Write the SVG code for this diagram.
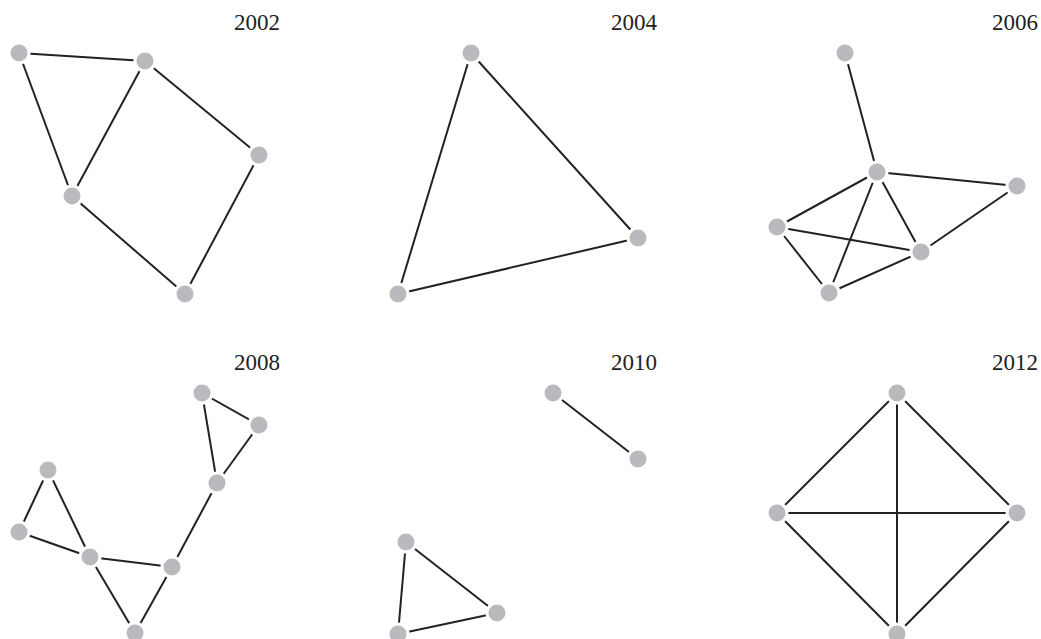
<svg xmlns="http://www.w3.org/2000/svg" width="1041" height="639" viewBox="0 0 1041 639">
<style>
.e line{stroke:#222;stroke-width:2;stroke-linecap:butt}
.n{fill:#b9babd;stroke:#fff;stroke-width:3}
.lbl{font-family:"Liberation Serif","DejaVu Serif",serif;font-size:23px;fill:#222;text-anchor:end}
</style>
<rect width="1041" height="639" fill="#fff"/>
<g id="labels">
<text class="lbl" x="280" y="30">2002</text>
<text class="lbl" x="657" y="30">2004</text>
<text class="lbl" x="1038" y="30">2006</text>
<text class="lbl" x="280" y="370">2008</text>
<text class="lbl" x="657" y="370">2010</text>
<text class="lbl" x="1038" y="370">2012</text>
</g>
<g id="connectors" class="e">
<line x1="19" y1="53" x2="145" y2="61"/>
<line x1="19" y1="53" x2="72" y2="196"/>
<line x1="145" y1="61" x2="72" y2="196"/>
<line x1="145" y1="61" x2="259" y2="155"/>
<line x1="259" y1="155" x2="185" y2="294"/>
<line x1="72" y1="196" x2="185" y2="294"/>
<line x1="471" y1="53" x2="638" y2="238"/>
<line x1="471" y1="53" x2="398" y2="294"/>
<line x1="638" y1="238" x2="398" y2="294"/>
<line x1="845" y1="53" x2="877" y2="172"/>
<line x1="877" y1="172" x2="1017" y2="186"/>
<line x1="877" y1="172" x2="777" y2="227"/>
<line x1="877" y1="172" x2="829" y2="293"/>
<line x1="877" y1="172" x2="921" y2="252"/>
<line x1="777" y1="227" x2="921" y2="252"/>
<line x1="777" y1="227" x2="829" y2="293"/>
<line x1="829" y1="293" x2="921" y2="252"/>
<line x1="921" y1="252" x2="1017" y2="186"/>
<line x1="202" y1="393" x2="259" y2="425"/>
<line x1="202" y1="393" x2="217" y2="483"/>
<line x1="259" y1="425" x2="217" y2="483"/>
<line x1="217" y1="483" x2="172" y2="567"/>
<line x1="48" y1="470" x2="19" y2="532"/>
<line x1="48" y1="470" x2="90" y2="557"/>
<line x1="19" y1="532" x2="90" y2="557"/>
<line x1="90" y1="557" x2="172" y2="567"/>
<line x1="90" y1="557" x2="135" y2="633"/>
<line x1="172" y1="567" x2="135" y2="633"/>
<line x1="553" y1="393" x2="638" y2="459"/>
<line x1="406" y1="542" x2="497" y2="613"/>
<line x1="406" y1="542" x2="398" y2="634"/>
<line x1="497" y1="613" x2="398" y2="634"/>
<line x1="897" y1="393" x2="777" y2="513"/>
<line x1="897" y1="393" x2="1017" y2="513"/>
<line x1="897" y1="393" x2="897" y2="634"/>
<line x1="777" y1="513" x2="1017" y2="513"/>
<line x1="777" y1="513" x2="897" y2="634"/>
<line x1="1017" y1="513" x2="897" y2="634"/>
</g>
<g id="g2002">
<circle id="n2002a" class="n" cx="19" cy="53" r="10"/>
<circle id="n2002b" class="n" cx="145" cy="61" r="10"/>
<circle id="n2002c" class="n" cx="259" cy="155" r="10"/>
<circle id="n2002d" class="n" cx="72" cy="196" r="10"/>
<circle id="n2002e" class="n" cx="185" cy="294" r="10"/>
</g>
<g id="g2004">
<circle id="n2004a" class="n" cx="471" cy="53" r="10"/>
<circle id="n2004b" class="n" cx="638" cy="238" r="10"/>
<circle id="n2004c" class="n" cx="398" cy="294" r="10"/>
</g>
<g id="g2006">
<circle id="n2006a" class="n" cx="845" cy="53" r="10"/>
<circle id="n2006b" class="n" cx="877" cy="172" r="10"/>
<circle id="n2006c" class="n" cx="1017" cy="186" r="10"/>
<circle id="n2006d" class="n" cx="777" cy="227" r="10"/>
<circle id="n2006e" class="n" cx="921" cy="252" r="10"/>
<circle id="n2006f" class="n" cx="829" cy="293" r="10"/>
</g>
<g id="g2008">
<circle id="n2008a" class="n" cx="202" cy="393" r="10"/>
<circle id="n2008b" class="n" cx="259" cy="425" r="10"/>
<circle id="n2008c" class="n" cx="48" cy="470" r="10"/>
<circle id="n2008d" class="n" cx="217" cy="483" r="10"/>
<circle id="n2008e" class="n" cx="19" cy="532" r="10"/>
<circle id="n2008f" class="n" cx="90" cy="557" r="10"/>
<circle id="n2008g" class="n" cx="172" cy="567" r="10"/>
<circle id="n2008h" class="n" cx="135" cy="633" r="10"/>
</g>
<g id="g2010">
<circle id="n2010a" class="n" cx="553" cy="393" r="10"/>
<circle id="n2010b" class="n" cx="638" cy="459" r="10"/>
<circle id="n2010c" class="n" cx="406" cy="542" r="10"/>
<circle id="n2010d" class="n" cx="497" cy="613" r="10"/>
<circle id="n2010e" class="n" cx="398" cy="634" r="10"/>
</g>
<g id="g2012">
<circle id="n2012a" class="n" cx="897" cy="393" r="10"/>
<circle id="n2012b" class="n" cx="777" cy="513" r="10"/>
<circle id="n2012c" class="n" cx="1017" cy="513" r="10"/>
<circle id="n2012d" class="n" cx="897" cy="634" r="10"/>
</g>
</svg>
